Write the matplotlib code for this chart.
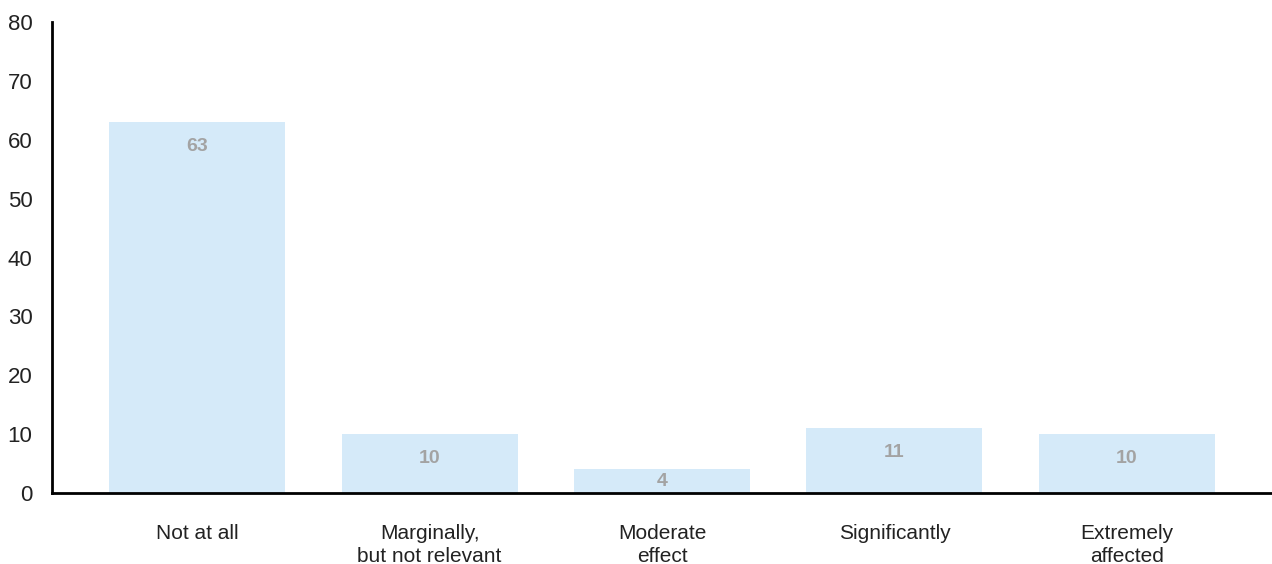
import matplotlib
matplotlib.use("Agg")
import matplotlib.pyplot as plt

categories = ["Not at all", "Marginally,\nbut not relevant", "Moderate\neffect",
              "Significantly", "Extremely\naffected"]
values = [63, 10, 4, 11, 10]
yticks = [0, 10, 20, 30, 40, 50, 60, 70, 80]

plt.rcParams["font.family"] = ["Liberation Sans", "DejaVu Sans"]

W, H, DPI = 1272, 564, 100
fig = plt.figure(figsize=(W / DPI, H / DPI), dpi=DPI)
ax = fig.add_axes([52 / W, (H - 493) / H, 1 - 52 / W, (493 - 22) / H])

x = list(range(len(categories)))
ax.bar(x, values, width=0.757, color="#d5eaf9", zorder=1)

ax.set_xlim(-0.624, 4.624)
ax.set_ylim(0, 80)
ax.set_yticks(yticks)
ax.set_xticks(x)
ax.set_xticklabels(categories, linespacing=1.3)

ax.tick_params(axis="y", length=0, pad=14, labelsize=16, labelcolor="#222222")
ax.tick_params(axis="x", length=0, pad=22, labelsize=15, labelcolor="#222222")

for s in ("top", "right"):
    ax.spines[s].set_visible(False)
for s in ("left", "bottom"):
    ax.spines[s].set_linewidth(2)
    ax.spines[s].set_color("#000000")
    ax.spines[s].set_zorder(3)

# value labels sit just inside the top of each bar (centred if the bar is short)
for xi, v in zip(x, values):
    y = max(v - 4.2, v / 2)
    ax.text(xi, y, f"{v}", ha="center", va="center", fontsize=14,
            fontweight="bold", color="#a3a3a3", zorder=2)

fig.savefig("out.png", dpi=DPI)
